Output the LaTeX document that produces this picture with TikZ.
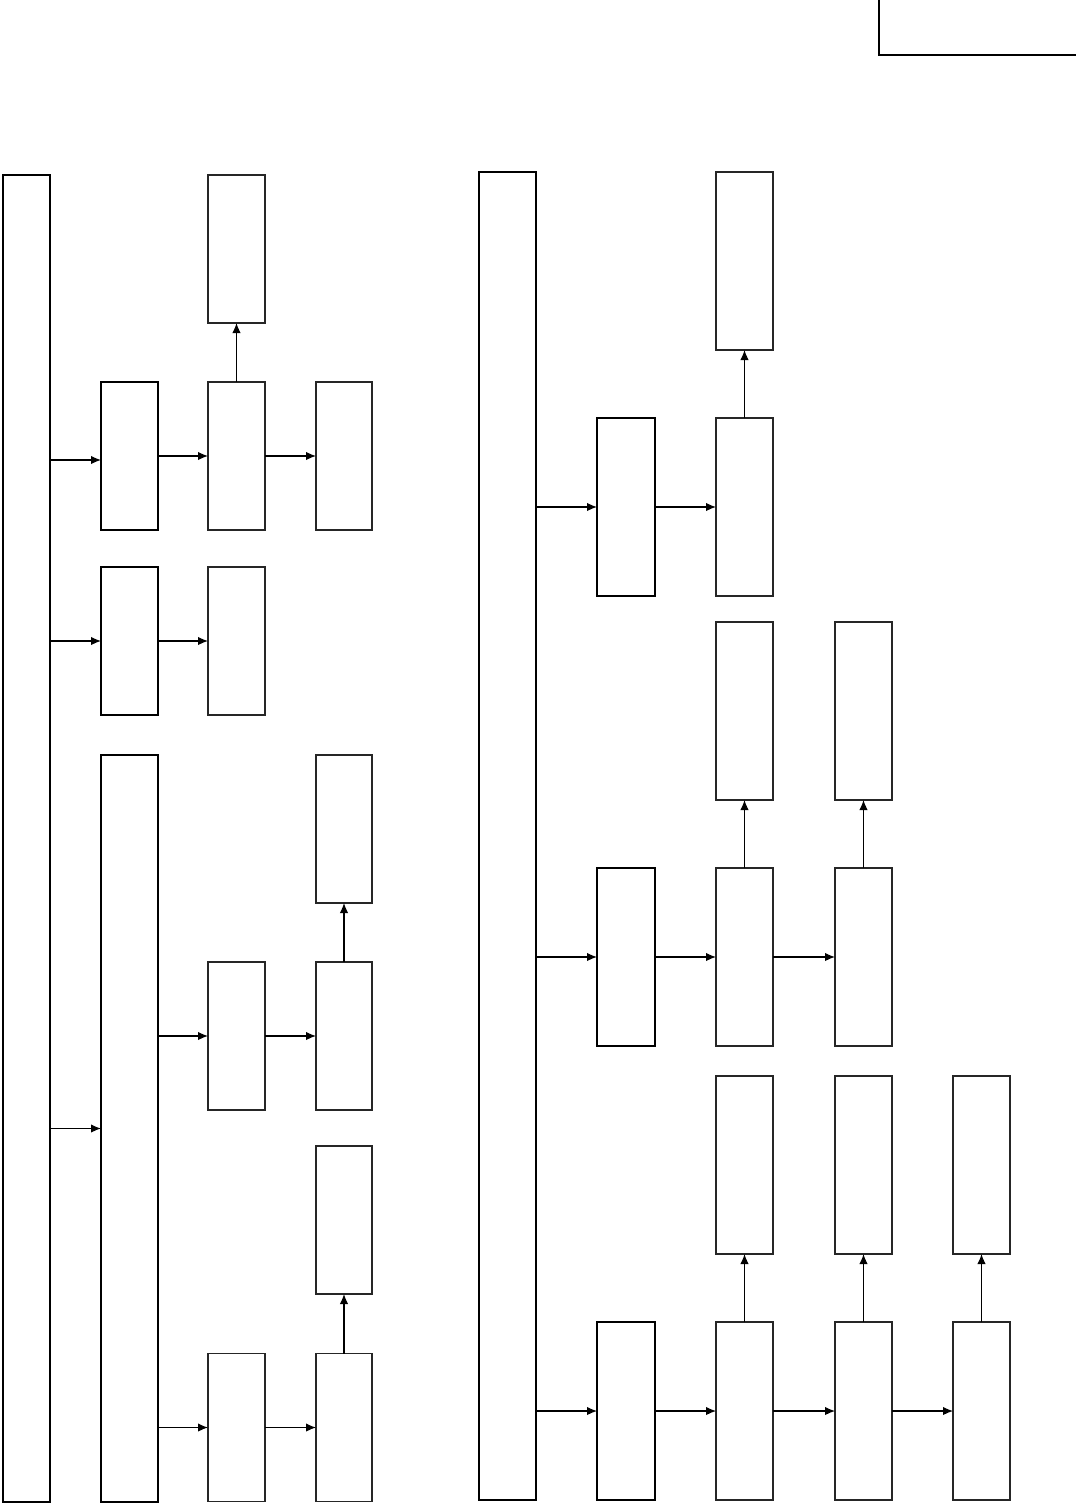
\documentclass[tikz,border=0pt]{standalone}
\usepackage{tikz}
\usetikzlibrary{arrows.meta,positioning}

\begin{document}
\begin{tikzpicture}[x=0.5pt,y=-0.5pt,>={Latex[length=5pt,width=4.2pt]},
cell/.style={draw=black!85,line width=0.6pt,inner sep=0pt,outer sep=0pt,minimum width=28.5pt,minimum height=74pt},
stage/.style={cell,draw=black,line width=1.1pt},
tallcell/.style={cell,minimum height=89pt},
tallstage/.style={stage,minimum width=29pt,minimum height=89pt},
flow/.style={->,line width=0.55pt,draw=black}]
\useasboundingbox (0,0) rectangle (1076,1504);
% tag frame in the corner
\draw[line width=1.1pt] (879,0) -- (879,55) -- (1076,55);
% left group
\node[stage,minimum width=23.5pt,minimum height=663.5pt] (bus) at (26.5,838.5) {};
\node[cell] (outA) at (236.5,249) {};
\node[stage] (stA) at (129.5,456) {};
\node[cell] (midA) at (236.5,456) {};
\node[cell,minimum width=28pt] (endA) at (344,456) {};
\node[stage] (stB) at (129.5,641) {};
\node[cell] (midB) at (236.5,641) {};
\node[stage,minimum height=373.5pt] (sub) at (129.5,1128.5) {};
\node[cell,minimum width=28pt] (outC) at (344,829) {};
\node[cell] (midC) at (236.5,1036) {};
\node[cell,minimum width=28pt] (endC) at (344,1036) {};
\node[cell,minimum width=28pt] (outD) at (344,1220) {};
\node[cell] (midD) at (236.5,1427.5) {};
\node[cell,minimum width=28pt] (endD) at (344,1427.5) {};
\draw[flow] ([yshift=-2pt]stA.west -| bus.east) -- ([yshift=-2pt]stA.west);
\draw[flow] (stA) -- (midA);
\draw[flow] (midA) -- (endA);
\draw[flow] (midA) -- (outA);
\draw[flow] (stB.west -| bus.east) -- (stB.west);
\draw[flow] (stB) -- (midB);
\draw[flow] (sub.west -| bus.east) -- (sub.west);
\draw[flow] (midC.west -| sub.east) -- (midC.west);
\draw[flow] (midC) -- (endC);
\draw[flow] (endC) -- (outC);
\draw[flow] (midD.west -| sub.east) -- (midD.west);
\draw[flow] (midD) -- (endD);
\draw[flow] (endD) -- (outD);
% right group
\node[stage,minimum height=664pt] (rbus) at (507.5,836) {};
\node[tallcell] (topA) at (744.5,261) {};
\node[tallstage] (rstA) at (626,507) {};
\node[tallcell] (rmidA) at (744.5,507) {};
\node[tallcell] (topB) at (744.5,711) {};
\node[tallcell] (topC) at (863.5,711) {};
\node[tallstage] (rstB) at (626,957) {};
\node[tallcell] (rmidB) at (744.5,957) {};
\node[tallcell] (rendB) at (863.5,957) {};
\node[tallcell] (topD) at (744.5,1165) {};
\node[tallcell] (topE) at (863.5,1165) {};
\node[tallcell] (topF) at (981.5,1165) {};
\node[tallstage] (rstC) at (626,1411) {};
\node[tallcell] (rmidC) at (744.5,1411) {};
\node[tallcell] (rendC) at (863.5,1411) {};
\node[tallcell] (rlastC) at (981.5,1411) {};
\draw[flow] (rstA.west -| rbus.east) -- (rstA.west);
\draw[flow] (rstA) -- (rmidA);
\draw[flow] (rmidA) -- (topA);
\draw[flow] (rstB.west -| rbus.east) -- (rstB.west);
\draw[flow] (rstB) -- (rmidB);
\draw[flow] (rmidB) -- (rendB);
\draw[flow] (rmidB) -- (topB);
\draw[flow] (rendB) -- (topC);
\draw[flow] (rstC.west -| rbus.east) -- (rstC.west);
\draw[flow] (rstC) -- (rmidC);
\draw[flow] (rmidC) -- (rendC);
\draw[flow] (rendC) -- (rlastC);
\draw[flow] (rmidC) -- (topD);
\draw[flow] (rendC) -- (topE);
\draw[flow] (rlastC) -- (topF);
\end{tikzpicture}
\end{document}
